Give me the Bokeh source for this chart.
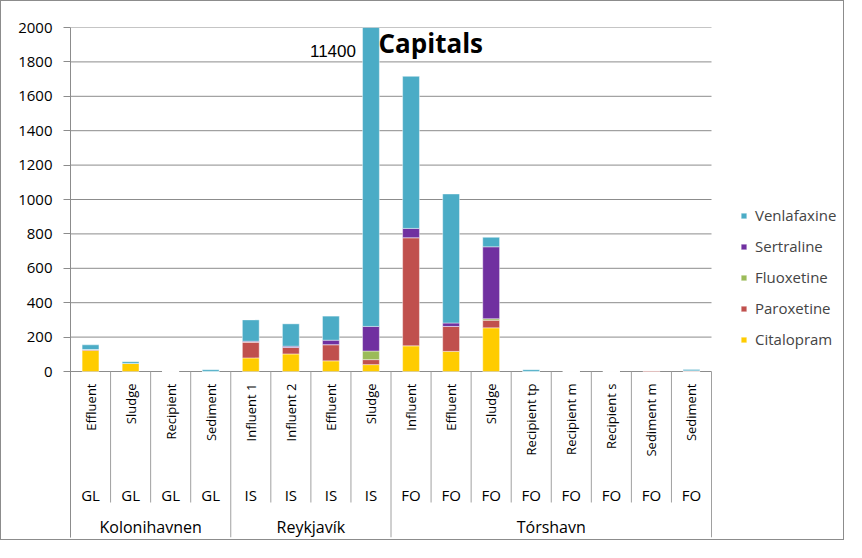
from math import pi
from bokeh.plotting import figure
from bokeh.models import (Range1d, FixedTicker, ColumnDataSource, Legend, LegendItem, Label)
from bokeh.core.properties import value
from bokeh.embed import file_html
from bokeh.resources import INLINE

# ---------------- data ----------------
cities = ["Kolonihavnen"] * 4 + ["Reykjavík"] * 4 + ["Tórshavn"] * 8
countries = ["GL"] * 4 + ["IS"] * 4 + ["FO"] * 8
samples = ["Effluent", "Sludge", "Recipient", "Sediment",
           "Influent 1", "Influent 2", "Effluent", "Sludge",
           "Influent", "Effluent", "Sludge", "Recipient tp",
           "Recipient m", "Recipient s", "Sediment m", "Sediment"]
drugs = ["Citalopram", "Paroxetine", "Fluoxetine", "Sertraline", "Venlafaxine"]
citalopram = [122, 47, 0, 0, 79, 102, 62, 40, 149, 117, 254, 0, 0, 0, 0, 0]
paroxetine = [6, 0, 0, 0, 92, 38, 94, 29, 629, 145, 44, 0, 0, 0, 6, 4]
fluoxetine = [0, 0, 0, 0, 0, 0, 0, 50, 0, 0, 9, 0, 0, 0, 0, 0]
sertraline = [0, 0, 0, 0, 5, 7, 26, 143, 54, 20, 418, 0, 0, 0, 0, 0]
venlafaxine = [27, 10, 0, 10, 124, 130, 140, 11138, 884, 750, 55, 10, 0, 0, 0, 8]
colors = ["#FFCC00", "#C0504D", "#9BBB59", "#7030A0", "#4BACC6"]
y_ticks = list(range(0, 2001, 200))
Y_MAX = 2000
clipped_index = 7  # Reykjavík sludge, its total is written beside the bar

# ---------------- layout (pixels) ----------------
W, H = 844, 540
BORDER_LEFT = 69
PX_CATS = 641      # width of the category area
PX_PLOT = 344      # height of 0..2000
PX_BELOW = 166     # label band below the zero line
SEP_LEN = 131      # separators between single bars
SAMPLE_Y = 12
COUNTRY_Y = 123
CITY_Y = 155
FONT = "Open Sans"
GRID = "#8c8c8c"
SEP = "#a0a0a0"

n = len(samples)
pos = [i + 0.5 for i in range(n)]          # category slots
src = ColumnDataSource(dict(x=pos, Citalopram=citalopram, Paroxetine=paroxetine,
                            Fluoxetine=fluoxetine, Sertraline=sertraline,
                            Venlafaxine=venlafaxine))

x_end = n * (W - BORDER_LEFT) / PX_CATS
y_min = -Y_MAX * PX_BELOW / PX_PLOT
p = figure(x_range=Range1d(0, x_end), y_range=Range1d(y_min, Y_MAX), width=W, height=H,
           output_backend="svg", toolbar_location=None, x_axis_location=None,
           min_border_left=BORDER_LEFT, min_border_right=0, min_border_top=26,
           min_border_bottom=4)
p.extra_y_ranges = {"lab": Range1d(start=PX_BELOW, end=-PX_PLOT)}
p.styles = {"border": "1px solid #8c8c8c"}
p.outline_line_color = None
p.background_fill_color = "white"
p.border_fill_color = "white"
p.grid.visible = False

ticker = FixedTicker(ticks=y_ticks)
p.yaxis.ticker = ticker
p.yaxis.axis_line_color = GRID
p.yaxis.major_tick_line_color = GRID
p.yaxis.major_tick_out = 7
p.yaxis.major_tick_in = 0
p.yaxis.minor_tick_line_color = None
p.yaxis.major_label_standoff = 11
p.yaxis.major_label_text_font = FONT
p.yaxis.major_label_text_font_size = "15px"
p.yaxis.major_label_text_color = "black"

# horizontal grid lines over the category area only
p.segment(x0=[0] * len(y_ticks), x1=[n] * len(y_ticks), y0=y_ticks, y1=y_ticks,
          line_color=GRID, line_width=1)

renderers = p.vbar_stack(drugs, x="x", width=0.42, color=colors, source=src,
                         line_color="white", line_width=0.6, line_alpha=0.7)

# separators of the category axis
sep_x = list(range(n + 1))
sep_y = [PX_BELOW if (i == 0 or i == n or cities[i] != cities[i - 1]) else SEP_LEN
         for i in sep_x]
p.segment(x0=sep_x, y0=[0] * len(sep_x), x1=sep_x, y1=sep_y, y_range_name="lab",
          line_color=SEP, line_width=1)

# category labels
p.text(x=pos, y=[SAMPLE_Y] * n, text=samples, angle=pi / 2,
       y_range_name="lab", text_align="right", text_baseline="middle",
       text_font=value(FONT), text_font_size=value("13px"), text_color="black")
p.text(x=pos, y=[COUNTRY_Y] * n, text=countries,
       y_range_name="lab", text_align="center", text_baseline="middle",
       text_font=value(FONT), text_font_size=value("15px"), text_color="black")
city_names = list(dict.fromkeys(cities))
city_pos = [sum(pos[i] for i in range(n) if cities[i] == c) / cities.count(c) for c in city_names]
p.text(x=city_pos, y=[CITY_Y] * len(city_names), text=city_names,
       y_range_name="lab", text_align="center", text_baseline="middle",
       text_font=value(FONT), text_font_size=value("16px"), text_color="black")

# total of the clipped bar
total = (citalopram[clipped_index] + paroxetine[clipped_index] + fluoxetine[clipped_index]
         + sertraline[clipped_index] + venlafaxine[clipped_index])
p.text(x=[pos[clipped_index]], y=[Y_MAX], text=[str(total)], x_offset=-15, y_offset=23,
       text_align="right", text_baseline="middle",
       text_font=value("Liberation Sans"), text_font_size=value("17px"), text_color="black")

p.add_layout(Label(x=308, y=495, x_units="screen", y_units="screen", text="Capitals",
                   text_font=FONT, text_font_style="bold", text_font_size="26px",
                   text_color="black", text_baseline="alphabetic"))

legend = Legend(items=[LegendItem(label=d, renderers=[r])
                       for d, r in reversed(list(zip(drugs, renderers)))],
                location=(670, 188), margin=0, padding=0, spacing=11,
                glyph_width=7, glyph_height=7, label_standoff=8, label_height=20,
                label_text_font=FONT, label_text_font_size="15px",
                border_line_color=None, background_fill_alpha=0)
p.add_layout(legend, "center")

open("out.html", "w").write(file_html(p, INLINE))
